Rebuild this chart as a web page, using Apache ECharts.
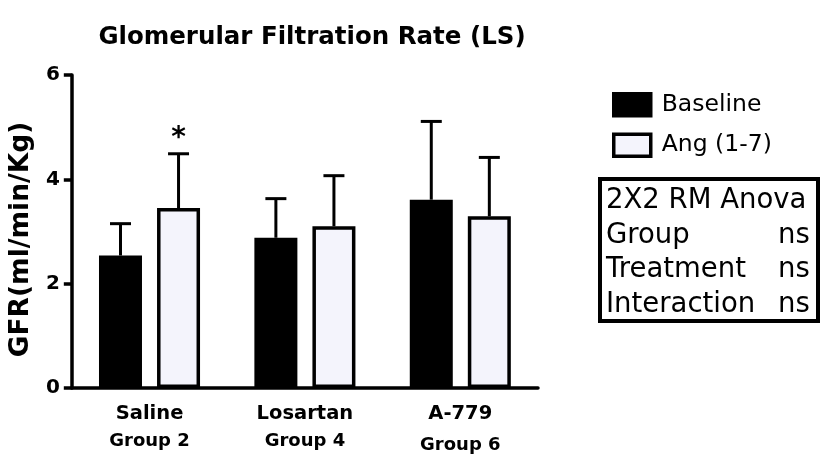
<!DOCTYPE html>
<html>
<head>
<meta charset="utf-8">
<script src="https://cdn.jsdelivr.net/npm/echarts@6/dist/echarts.min.js"></script>
<style>html,body{margin:0;padding:0;background:#fff}#c{width:821px;height:456px}</style>
</head>
<body>
<div id="c"></div>
<script>
// ---- data ----
const categories = ['Saline', 'Losartan', 'A-779'];
const subLabels = ['Group 2', 'Group 4', 'Group 6'];
const baselineMean = [2.54, 2.88, 3.61];
const baselineErr = [0.61, 0.75, 1.50];
const angMean = [3.45, 3.10, 3.29];
const angErr = [1.04, 0.97, 1.13];
const angSig = ['*', '', ''];
const seriesNames = ['Baseline', 'Ang (1-7)'];
const yTicks = { min: 0, max: 6, interval: 2 };
const anovaTitle = '2X2 RM Anova';
const anovaRows = ['Group', 'Treatment', 'Interaction'];
const anovaVals = ['ns', 'ns', 'ns'];

// ---- style ----
const FONT = 'DejaVu Sans';
const BAR_W = 43, BAR_GAP = 0.35, BORDER = 3.5;
const OFFSET = BAR_W * (1 + BAR_GAP) / 2;

function errSeries(means, errs, dir, sig) {
  return {
    type: 'custom',
    z: 5,
    silent: true,
    data: means.map((m, i) => [i, m, errs[i]]),
    renderItem: function (params, api) {
      const i = api.value(0), m = api.value(1), e = api.value(2);
      const p0 = api.coord([i, m]);
      const p1 = api.coord([i, m + e]);
      const x = p0[0] + dir * OFFSET;
      const children = [
        { type: 'line', shape: { x1: x, y1: p0[1], x2: x, y2: p1[1] }, style: { stroke: '#000', lineWidth: 3 } },
        { type: 'line', shape: { x1: x - 10.5, y1: p1[1], x2: x + 10.5, y2: p1[1] }, style: { stroke: '#000', lineWidth: 3 } }
      ];
      if (sig && sig[i]) {
        children.push({ type: 'text', style: { text: sig[i], x: x, y: p1[1] - 1, textAlign: 'center', textVerticalAlign: 'bottom', font: 'bold 28px "' + FONT + '"', fill: '#000' } });
      }
      return { type: 'group', children: children };
    }
  };
}

const chart = echarts.init(document.getElementById('c'), null, { renderer: 'canvas' });
const rowY0 = 201, rowStep = 34.5;
const ANOVA_FONT = '27.5px "' + FONT + '"';
const graphics = [
  { type: 'rect', shape: { x: 600, y: 179, width: 218, height: 142 }, style: { fill: '#fff', stroke: '#000', lineWidth: 4 } },
  { type: 'text', style: { text: anovaTitle, x: 606, y: rowY0, textVerticalAlign: 'middle', font: ANOVA_FONT, fill: '#000' } }
];
anovaRows.forEach((r, k) => {
  graphics.push({ type: 'text', style: { text: r, x: 606, y: rowY0 + rowStep * (k + 1), textVerticalAlign: 'middle', font: ANOVA_FONT, fill: '#000' } });
  graphics.push({ type: 'text', style: { text: anovaVals[k], x: 778, y: rowY0 + rowStep * (k + 1), textVerticalAlign: 'middle', font: ANOVA_FONT, fill: '#000' } });
});

chart.setOption({
  animation: false,
  backgroundColor: '#fff',
  title: {
    text: 'Glomerular Filtration Rate (LS)',
    left: 307, top: 20, textAlign: 'center',
    textStyle: { fontFamily: FONT, fontWeight: 'bold', fontSize: 24.5, color: '#000' }
  },
  legend: {
    data: seriesNames,
    orient: 'vertical', left: 607, top: 87,
    itemWidth: 37, itemHeight: 22, itemGap: 15, icon: 'rect',
    itemStyle: { borderColor: '#000', borderWidth: 3.5 },
    textStyle: { fontFamily: FONT, fontSize: 23.5, color: '#000', padding: [0, 0, 0, 6] }
  },
  grid: { left: 70, right: 283, top: 75, bottom: 68, containLabel: false },
  xAxis: {
    type: 'category',
    data: categories,
    axisLine: { lineStyle: { color: '#000', width: 3.5 } },
    axisTick: { alignWithLabel: true, length: 9, lineStyle: { color: '#000', width: 3.5 } },
    axisLabel: {
      margin: 13,
      formatter: function (v, i) {
        return '{a|' + v + '}\n{' + (i === 2 ? 'c' : 'b') + '|' + subLabels[i] + '}';
      },
      rich: {
        a: { fontFamily: FONT, fontWeight: 'bold', fontSize: 19.5, color: '#000', lineHeight: 26 },
        b: { fontFamily: FONT, fontWeight: 'bold', fontSize: 18, color: '#000', lineHeight: 28 },
        c: { fontFamily: FONT, fontWeight: 'bold', fontSize: 18, color: '#000', lineHeight: 28, padding: [8, 0, 0, 0] }
      }
    }
  },
  yAxis: {
    type: 'value',
    min: yTicks.min, max: yTicks.max, interval: yTicks.interval,
    name: 'GFR(ml/min/Kg)',
    nameLocation: 'middle', nameGap: 28,
    nameTextStyle: { fontFamily: FONT, fontWeight: 'bold', fontSize: 26.5, color: '#000', padding: [0, 16, 0, 0] },
    axisLine: { show: true, lineStyle: { color: '#000', width: 3.5 } },
    axisTick: { show: true, length: 8, lineStyle: { color: '#000', width: 3.5 } },
    axisLabel: { margin: 12, fontFamily: FONT, fontWeight: 'bold', fontSize: 20, color: '#000' },
    splitLine: { show: false }
  },
  series: [
    {
      name: seriesNames[0], type: 'bar', data: baselineMean,
      barWidth: BAR_W, barGap: (BAR_GAP * 100) + '%',
      itemStyle: { color: '#000', borderColor: '#000', borderWidth: BORDER }
    },
    {
      name: seriesNames[1], type: 'bar', data: angMean,
      barWidth: BAR_W, barGap: (BAR_GAP * 100) + '%',
      itemStyle: { color: '#f4f4fc', borderColor: '#000', borderWidth: BORDER }
    },
    errSeries(baselineMean, baselineErr, -1, null),
    errSeries(angMean, angErr, 1, angSig)
  ],
  graphic: graphics
});
</script>
</body>
</html>
